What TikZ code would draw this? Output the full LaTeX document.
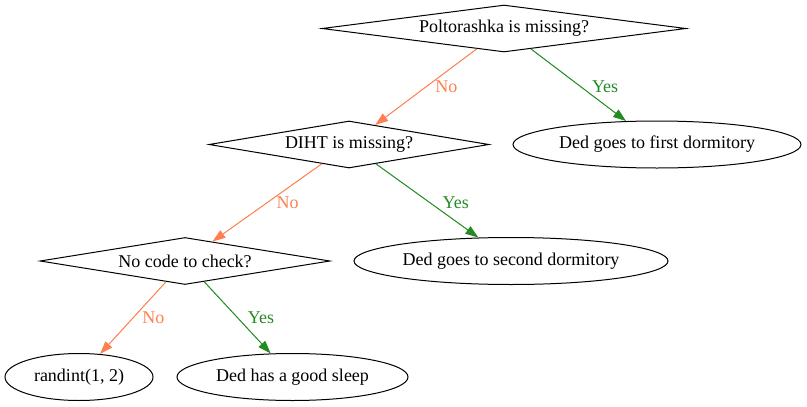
\documentclass[tikz,border=0pt]{standalone}
\usepackage{fontspec}
\setmainfont{Liberation Serif}
\usetikzlibrary{shapes.geometric,arrows.meta}
\definecolor{edgeno}{HTML}{FF7F50}
\definecolor{edgeyes}{HTML}{228B22}
\begin{document}
\begin{tikzpicture}[x=1pt,y=-1pt,
  font=\fontsize{18}{21}\selectfont,
  dec/.style={diamond, draw, line width=1pt, inner sep=0pt, aspect=7, minimum height=47pt},
  leaf/.style={ellipse, draw, line width=1pt, inner sep=0pt, minimum height=47pt},
  conn/.style={line width=1pt, -{Triangle[length=13pt,width=9pt]}},
  noedge/.style={conn, draw=edgeno, fill=edgeno},
  yesedge/.style={conn, draw=edgeyes, fill=edgeyes},
  lbl/.style={midway, anchor=west, inner sep=0pt, xshift=9pt}
]
\useasboundingbox (0,0) rectangle (807,407);
\node[dec, minimum width=364pt] (d1) at (504,28.5) {Poltorashka is missing?};
\node[dec, minimum width=280pt] (d2) at (349,144.5) {DIHT is missing?};
\node[dec, minimum width=290pt] (d3) at (185,261) {No code to check?};
\node[leaf, minimum width=288pt] (e1) at (657,144.5) {Ded goes to first dormitory};
\node[leaf, minimum width=314pt] (e2) at (511,261) {Ded goes to second dormitory};
\node[leaf, minimum width=148pt] (e3) at (79,377) {randint(1, 2)};
\node[leaf, minimum width=231pt] (e4) at (292.5,377) {Ded has a good sleep};

\draw[noedge] (d1) -- (d2) node[lbl, text=edgeno] (l1) {No};
\draw[yesedge] (d1) -- (e1) node[lbl, text=edgeyes, xshift=4pt, yshift=-2pt] (l2) {Yes};
\draw[noedge] (d2) -- (d3) node[lbl, text=edgeno] (l3) {No};
\draw[yesedge] (d2) -- (e2) node[lbl, text=edgeyes, xshift=6pt, yshift=-2pt] (l4) {Yes};
\draw[noedge] (d3) -- (e3) node[lbl, text=edgeno] (l5) {No};
\draw[yesedge] (d3) -- (e4) node[lbl, text=edgeyes, xshift=1pt] (l6) {Yes};
\end{tikzpicture}
\end{document}
